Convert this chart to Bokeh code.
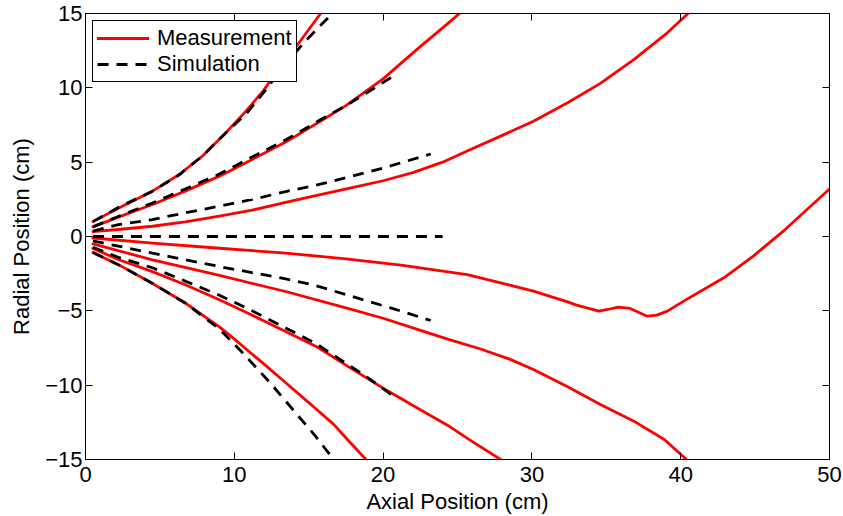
from bokeh.plotting import figure
from bokeh.models import Range1d, FixedTicker, LinearAxis, Legend, LegendItem
from bokeh.embed import file_html
from bokeh.resources import INLINE

# ---------------- data ----------------
x_ticks = [0, 10, 20, 30, 40, 50]
y_ticks = [-15, -10, -5, 0, 5, 10, 15]
y_tick_labels = {-15: "\u221215", -10: "\u221210", -5: "\u22125", 0: "0", 5: "5", 10: "10", 15: "15"}

# Measurement (red, solid)
m1_x = [0.5, 2.2, 4.5, 6.3, 7.9, 9.4, 10.8, 11.9, 13.0, 14.4, 15.8]
m1_y = [1.0, 1.9, 3.05, 4.17, 5.45, 6.95, 8.45, 9.75, 11.25, 13.1, 15.0]

m2_x = [0.5, 2.2, 4.5, 6.7, 9.0, 11.2, 13.45, 15.7, 17.5, 20.0, 22.3, 24.5, 25.3]
m2_y = [0.65, 1.3, 2.15, 3.05, 4.06, 5.18, 6.35, 7.7, 8.8, 10.6, 12.6, 14.45, 15.15]

m3_x = [0.5, 2.2, 4.5, 6.7, 9.0, 11.2, 13.45, 15.7, 18.0, 20.0, 22.0, 24.0, 25.65, 27.9, 30.1, 32.4, 34.6, 36.85, 39.1, 40.6]
m3_y = [0.33, 0.47, 0.69, 0.98, 1.37, 1.77, 2.3, 2.8, 3.3, 3.75, 4.3, 5.0, 5.75, 6.75, 7.75, 9.0, 10.3, 11.9, 13.7, 15.1]

m4_x = [0.5, 4.5, 9.0, 13.45, 17.5, 21.2, 25.65, 27.9, 30.1, 32.4, 33.0, 34.5, 35.1, 35.8, 36.6,
        37.75, 38.4, 39.1, 40.2, 42.9, 44.9, 47.0, 50.0]
m4_y = [-0.1, -0.45, -0.79, -1.12, -1.5, -1.92, -2.56, -3.12, -3.68, -4.4, -4.62, -5.02, -4.91, -4.75, -4.84,
        -5.36, -5.29, -5.02, -4.35, -2.78, -1.3, 0.45, 3.2]

m5_x = [0.5, 4.5, 9.0, 13.45, 17.5, 20.0, 22.3, 24.5, 26.5, 28.5, 30.1, 32.4, 34.6, 36.85, 38.9, 40.5]
m5_y = [-0.5, -1.57, -2.62, -3.7, -4.8, -5.5, -6.25, -6.95, -7.55, -8.25, -8.95, -10.1, -11.3, -12.42, -13.65, -15.1]

m6_x = [0.5, 2.2, 4.5, 6.7, 9.0, 11.1, 13.45, 15.6, 17.5, 20.0, 21.2, 22.5, 24.5, 26.0, 27.9]
m6_y = [-0.8, -1.55, -2.36, -3.25, -4.26, -5.25, -6.39, -7.45, -8.65, -10.2, -10.9, -11.65, -12.8, -13.8, -15.0]

m7_x = [0.5, 2.24, 4.48, 6.73, 8.97, 9.95, 11.07, 12.2, 13.3, 14.4, 15.5, 16.68, 17.46, 18.85]
m7_y = [-1.08, -1.91, -3.14, -4.49, -6.06, -6.85, -7.8, -8.75, -9.7, -10.65, -11.6, -12.64, -13.5, -15.0]

# Simulation (black, dashed)
s1_x = [0.5, 2.2, 4.5, 6.3, 7.9, 9.4, 10.8, 12.1, 13.2, 14.6, 15.7, 16.7]
s1_y = [1.0, 1.95, 3.05, 4.15, 5.45, 6.95, 8.25, 9.85, 11.3, 12.95, 14.1, 15.1]

s2_x = [0.5, 2.2, 4.5, 6.7, 9.0, 11.2, 13.45, 15.7, 17.5, 19.2, 20.7]
s2_y = [0.65, 1.35, 2.25, 3.2, 4.2, 5.35, 6.5, 7.8, 8.8, 9.85, 10.8]

s3_x = [0.5, 2.2, 4.5, 6.7, 9.0, 11.2, 13.45, 15.7, 17.5, 20.0, 23.2]
s3_y = [0.36, 0.8, 1.14, 1.59, 2.04, 2.49, 3.02, 3.5, 3.95, 4.6, 5.55]

s4_x = [0.5, 24.0]
s4_y = [0.0, 0.0]

s5_x = [0.5, 4.5, 9.0, 13.45, 15.3, 17.8, 20.5, 23.2]
s5_y = [-0.3, -1.12, -2.02, -2.85, -3.25, -4.0, -4.8, -5.65]

s6_x = [0.5, 2.2, 4.5, 6.7, 9.0, 11.1, 13.45, 15.5, 17.0, 18.7, 20.7]
s6_y = [-0.72, -1.4, -2.1, -3.0, -3.95, -4.95, -6.15, -7.2, -8.2, -9.3, -10.74]

s7_x = [0.5, 2.24, 4.48, 6.73, 8.97, 10.54, 12.33, 13.9, 15.47, 16.75]
s7_y = [-1.08, -1.91, -3.14, -4.49, -6.2, -7.8, -9.75, -11.6, -13.45, -15.1]

measurements = [(m1_x, m1_y), (m2_x, m2_y), (m3_x, m3_y), (m4_x, m4_y), (m5_x, m5_y), (m6_x, m6_y), (m7_x, m7_y)]
simulations = [(s1_x, s1_y), (s2_x, s2_y), (s3_x, s3_y), (s4_x, s4_y), (s5_x, s5_y), (s6_x, s6_y), (s7_x, s7_y)]

# ---------------- figure ----------------
FONT = "Liberation Sans"
FS = "22px"

p = figure(width=843, height=516, output_backend="svg", toolbar_location=None,
           x_range=Range1d(0, 50), y_range=Range1d(-15, 15),
           min_border_left=85, min_border_right=14, min_border_top=13, min_border_bottom=57)
p.grid.visible = False
p.background_fill_color = "white"
p.border_fill_color = "white"
p.outline_line_color = "black"
p.outline_line_width = 1
p.outline_line_alpha = 1

red_renderers = []
for xs, ys in measurements:
    r = p.line(xs, ys, line_color="#ff0000", line_width=2.8, line_join="round", line_cap="round")
    red_renderers.append(r)

black_renderers = []
for xs, ys in simulations:
    r = p.line(xs, ys, line_color="black", line_width=2.8, line_dash="11 8")
    black_renderers.append(r)

def style_axis(ax, show_labels):
    ax.axis_line_color = "black"
    ax.axis_line_width = 1
    ax.major_tick_in = 7
    ax.major_tick_out = 0
    ax.major_tick_line_color = "black"
    ax.major_tick_line_width = 1
    ax.minor_tick_line_color = None
    ax.major_label_text_font = FONT
    ax.major_label_text_color = "black"
    ax.axis_label_text_font = FONT
    ax.axis_label_text_font_size = FS
    ax.axis_label_text_font_style = "normal"
    ax.axis_label_text_color = "black"
    if show_labels:
        ax.major_label_text_font_size = FS
    else:
        ax.major_label_text_font_size = "0px"
        ax.major_label_standoff = 0

xa = p.xaxis[0]
xa.ticker = FixedTicker(ticks=x_ticks)
style_axis(xa, True)
xa.axis_label = "Axial Position (cm)"
xa.major_label_standoff = 7
xa.axis_label_standoff = 4

ya = p.yaxis[0]
ya.ticker = FixedTicker(ticks=y_ticks)
ya.major_label_overrides = y_tick_labels
style_axis(ya, True)
ya.axis_label = "Radial Position (cm)"
ya.major_label_standoff = 3
ya.axis_label_standoff = 8

top_ax = LinearAxis(ticker=FixedTicker(ticks=x_ticks))
style_axis(top_ax, False)
top_ax.major_label_overrides = {t: "" for t in x_ticks}
p.add_layout(top_ax, "above")

right_ax = LinearAxis(ticker=FixedTicker(ticks=y_ticks))
style_axis(right_ax, False)
right_ax.major_label_overrides = {t: "" for t in y_ticks}
p.add_layout(right_ax, "right")

legend = Legend(items=[LegendItem(label="Measurement", renderers=[red_renderers[0]]),
                       LegendItem(label="Simulation", renderers=[black_renderers[0]])],
                location="top_left")
legend.margin = 7
legend.padding = 4
legend.spacing = 0
legend.glyph_width = 52
legend.glyph_height = 20
legend.label_standoff = 8
legend.label_text_font = FONT
legend.label_text_font_size = FS
legend.label_text_color = "black"
legend.border_line_color = "black"
legend.border_line_width = 1
legend.border_line_alpha = 1
legend.background_fill_color = "white"
legend.background_fill_alpha = 1
p.add_layout(legend)

open("out.html", "w").write(file_html(p, INLINE))
